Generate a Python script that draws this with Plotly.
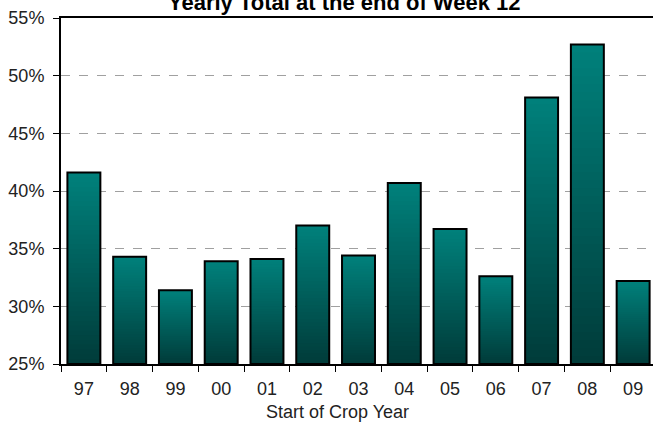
import plotly.graph_objects as go

years = ["97", "98", "99", "00", "01", "02", "03", "04", "05", "06", "07", "08", "09"]
values = [41.6, 34.3, 31.4, 33.9, 34.1, 37.0, 34.4, 40.7, 36.7, 32.6, 48.1, 52.7, 32.2]
y_ticks = [25, 30, 35, 40, 45, 50, 55]
y_tick_text = ["25%", "30%", "35%", "40%", "45%", "50%", "55%"]

title_text = "Yearly Total at the end of Week 12"
x_title = "Start of Crop Year"

BASE = 25
N = 40
top_rgb = (0, 128, 123)
bot_rgb = (0, 60, 58)

fig = go.Figure()
for k in range(N):
    frac = (N - k) / N
    t = k / (N - 1)
    c = tuple(round(top_rgb[i] + (bot_rgb[i] - top_rgb[i]) * t) for i in range(3))
    fig.add_trace(go.Bar(
        x=years,
        y=[(v - BASE) * frac for v in values],
        base=[BASE] * len(values),
        marker=dict(color="rgb(%d,%d,%d)" % c, line=dict(width=0)),
        showlegend=False, hoverinfo="skip",
    ))
fig.add_trace(go.Bar(
    x=years,
    y=[v - BASE for v in values],
    base=[BASE] * len(values),
    marker=dict(color="rgba(0,0,0,0)", line=dict(color="#000000", width=2)),
    showlegend=False,
))

font_family = "Liberation Sans, Arial, sans-serif"
fig.update_layout(
    width=653, height=422,
    margin=dict(l=61, r=0, t=18, b=58),
    paper_bgcolor="white", plot_bgcolor="white",
    barmode="overlay", bargap=0.28,
    font=dict(family=font_family, size=18, color="#222222"),
    showlegend=False,
    xaxis=dict(
        type="category", range=[-0.5, 12.434],
        tickson="boundaries", ticks="outside", ticklen=6, tickcolor="#000000", tickwidth=1,
        showline=True, linecolor="#000000", linewidth=2, mirror=True,
        showgrid=False, tickfont=dict(size=18, color="#222222"),
        ticklabelstandoff=7,
    ),
    yaxis=dict(
        range=[25, 55], tickvals=y_ticks, ticktext=y_tick_text,
        ticks="outside", ticklen=6, tickcolor="#000000", tickwidth=1,
        showline=True, linecolor="#000000", linewidth=2,
        showgrid=True, gridcolor="#A0A0A0", gridwidth=1, griddash="dash",
        zeroline=False, tickfont=dict(size=18, color="#222222"),
        ticklabelstandoff=5,
    ),
    annotations=[
        dict(text="<b>" + title_text + "</b>", xref="paper", yref="paper",
             x=(344.5 - 61) / 592, y=1, yshift=16, xanchor="center", yanchor="middle",
             showarrow=False, font=dict(size=22, color="#000000", family=font_family)),
        dict(text=x_title, xref="paper", yref="paper",
             x=(337 - 61) / 592, y=0, yshift=-48, xanchor="center", yanchor="middle",
             showarrow=False, font=dict(size=18, color="#222222", family=font_family)),
    ],
)

fig.write_html("out.html", config={"displayModeBar": False},
               post_script="document.body.style.margin='0';document.body.style.overflow='hidden';")
